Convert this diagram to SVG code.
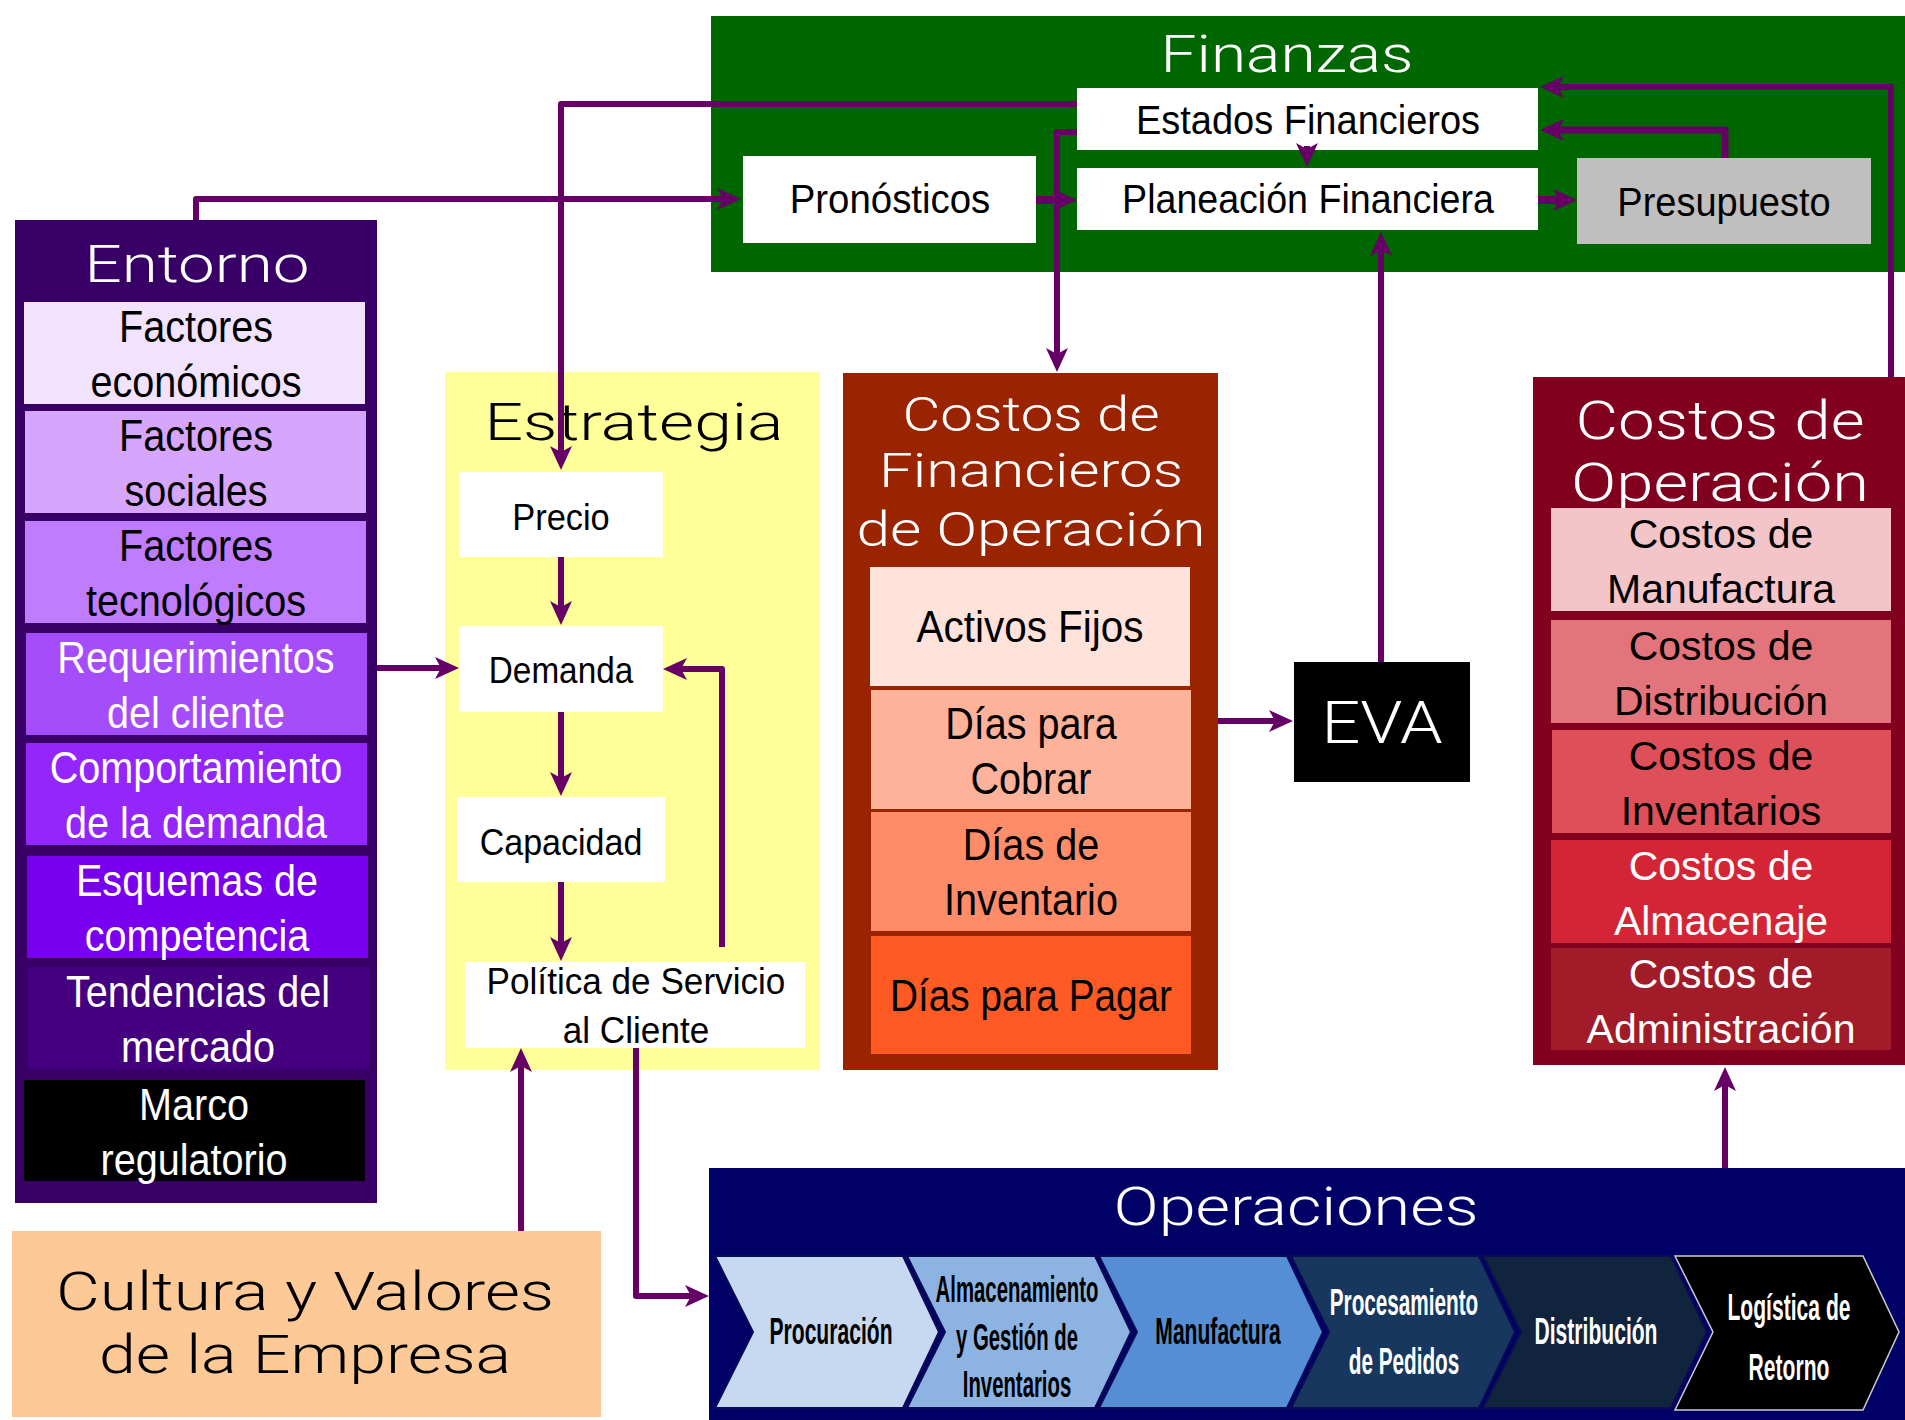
<svg xmlns="http://www.w3.org/2000/svg" width="1905" height="1420" viewBox="0 0 1905 1420">
<style>
.cn{font-family:"Liberation Sans",Arial,sans-serif;text-anchor:middle}
.ti{font-family:Roboto,"Liberation Sans",Arial,sans-serif;font-weight:300;text-anchor:middle}
.w{fill:#ffffff}
.k{fill:#000000}
.e44{font-size:44px}
.f40{font-size:40px}
.s37{font-size:37px}
.ch{font-size:37px;font-weight:bold}
.op{font-family:"Liberation Sans",Arial,sans-serif;text-anchor:middle;font-size:41px}
.conn path{fill:none;stroke:#660066;stroke-width:6;stroke-linejoin:round;marker-end:url(#ah)}
.chev{stroke:#0b0b55;stroke-width:2}
</style>
<defs>
<marker id="ah" markerUnits="userSpaceOnUse" markerWidth="24" markerHeight="22" viewBox="0 0 24 22" refX="14" refY="11" orient="auto">
<path d="M0,0 L24,11 L0,22 L6,11 z" fill="#660066"/>
</marker>
</defs>
<rect width="1905" height="1420" fill="#ffffff"/>

<!-- Finanzas -->
<g id="finanzas">
<rect x="711" y="16" width="1194" height="256" fill="#006600"/>
<text class="ti w" x="1287" y="72" font-size="52" textLength="253" lengthAdjust="spacingAndGlyphs">Finanzas</text>
</g>
<g id="estados-financieros">
<rect x="1077" y="88" width="461" height="62" fill="#ffffff"/>
<text class="cn k f40" transform="translate(1308,134) scale(0.95,1)">Estados Financieros</text>
</g>
<g id="pronosticos">
<rect x="743" y="156" width="293" height="87" fill="#ffffff"/>
<text class="cn k f40" transform="translate(890,213) scale(0.96,1)">Pronósticos</text>
</g>
<g id="planeacion-financiera">
<rect x="1077" y="168" width="461" height="62" fill="#ffffff"/>
<text class="cn k f40" transform="translate(1308,213) scale(0.94,1)">Planeación Financiera</text>
</g>
<g id="presupuesto">
<rect x="1577" y="158" width="294" height="86" fill="#bfbfbf"/>
<text class="cn k f40" transform="translate(1724,216) scale(0.95,1)">Presupuesto</text>
</g>

<!-- Entorno -->
<g id="entorno">
<rect x="15" y="220" width="362" height="983" fill="#380066"/>
<text class="ti w" x="197" y="282" font-size="52" textLength="225" lengthAdjust="spacingAndGlyphs">Entorno</text>
<rect x="24" y="302" width="341" height="102" fill="#f1e2fd"/>
<text class="cn k e44" transform="translate(196,342) scale(0.9,1)">Factores</text>
<text class="cn k e44" transform="translate(196,397) scale(0.9,1)">económicos</text>
<rect x="25" y="411" width="341" height="102" fill="#d5a6fc"/>
<text class="cn k e44" transform="translate(196,451) scale(0.9,1)">Factores</text>
<text class="cn k e44" transform="translate(196,506) scale(0.9,1)">sociales</text>
<rect x="25" y="521" width="341" height="102" fill="#bf7cfc"/>
<text class="cn k e44" transform="translate(196,561) scale(0.9,1)">Factores</text>
<text class="cn k e44" transform="translate(196,616) scale(0.9,1)">tecnológicos</text>
<rect x="26" y="633" width="341" height="102" fill="#a64dfb"/>
<text class="cn w e44" transform="translate(196,673) scale(0.9,1)">Requerimientos</text>
<text class="cn w e44" transform="translate(196,728) scale(0.9,1)">del cliente</text>
<rect x="26" y="743" width="341" height="102" fill="#9326fb"/>
<text class="cn w e44" transform="translate(196,783) scale(0.9,1)">Comportamiento</text>
<text class="cn w e44" transform="translate(196,838) scale(0.9,1)">de la demanda</text>
<rect x="27" y="856" width="341" height="102" fill="#7900ee"/>
<text class="cn w e44" transform="translate(197,896) scale(0.9,1)">Esquemas de</text>
<text class="cn w e44" transform="translate(197,951) scale(0.9,1)">competencia</text>
<rect x="28" y="967" width="341" height="102" fill="#45007f"/>
<text class="cn w e44" transform="translate(198,1007) scale(0.9,1)">Tendencias del</text>
<text class="cn w e44" transform="translate(198,1062) scale(0.9,1)">mercado</text>
<rect x="24" y="1080" width="341" height="101" fill="#000000"/>
<text class="cn w e44" transform="translate(194,1120) scale(0.9,1)">Marco</text>
<text class="cn w e44" transform="translate(194,1175) scale(0.9,1)">regulatorio</text>
</g>

<!-- Estrategia -->
<g id="estrategia">
<rect x="445" y="372" width="375" height="698" fill="#ffff99"/>
<text class="ti k" x="634" y="440" font-size="52" textLength="299" lengthAdjust="spacingAndGlyphs">Estrategia</text>
</g>
<g id="precio">
<rect x="459" y="472" width="204" height="85" fill="#ffffff"/>
<text class="cn k s37" transform="translate(561,530) scale(0.93,1)">Precio</text>
</g>
<g id="demanda">
<rect x="459" y="626" width="204" height="86" fill="#ffffff"/>
<text class="cn k s37" transform="translate(561,683) scale(0.9,1)">Demanda</text>
</g>
<g id="capacidad">
<rect x="457" y="797" width="208" height="85" fill="#ffffff"/>
<text class="cn k s37" transform="translate(561,855) scale(0.92,1)">Capacidad</text>
</g>
<g id="politica">
<rect x="465" y="962" width="340" height="86" fill="#ffffff"/>
<text class="cn k s37" transform="translate(636,994) scale(0.95,1)">Política de Servicio</text>
<text class="cn k s37" transform="translate(636,1043) scale(0.95,1)">al Cliente</text>
</g>

<!-- Costos de Financieros de Operación -->
<g id="costos-financieros">
<rect x="843" y="373" width="375" height="697" fill="#9a2400"/>
<text class="ti w" x="1031" y="431" font-size="48" textLength="257" lengthAdjust="spacingAndGlyphs">Costos de</text>
<text class="ti w" x="1031" y="487" font-size="48" textLength="304" lengthAdjust="spacingAndGlyphs">Financieros</text>
<text class="ti w" x="1031" y="546" font-size="48" textLength="349" lengthAdjust="spacingAndGlyphs">de Operación</text>
<rect x="870" y="567" width="320" height="119" fill="#ffe2d9"/>
<text class="cn k e44" transform="translate(1030,642) scale(0.92,1)">Activos Fijos</text>
<rect x="871" y="690" width="320" height="119" fill="#ffb29a"/>
<text class="cn k e44" transform="translate(1031,739) scale(0.9,1)">Días para</text>
<text class="cn k e44" transform="translate(1031,794) scale(0.9,1)">Cobrar</text>
<rect x="871" y="812" width="320" height="119" fill="#ff8c69"/>
<text class="cn k e44" transform="translate(1031,860) scale(0.9,1)">Días de</text>
<text class="cn k e44" transform="translate(1031,915) scale(0.9,1)">Inventario</text>
<rect x="871" y="936" width="320" height="118" fill="#ff5a24"/>
<text class="cn k e44" transform="translate(1031,1011) scale(0.88,1)">Días para Pagar</text>
</g>

<!-- EVA -->
<g id="eva">
<rect x="1294" y="662" width="176" height="120" fill="#000000"/>
<text class="ti w" x="1382" y="743" font-size="60" textLength="121" lengthAdjust="spacingAndGlyphs">EVA</text>
</g>

<!-- Costos de Operación -->
<g id="costos-operacion">
<rect x="1533" y="377" width="372" height="688" fill="#80001e"/>
<text class="ti w" x="1720" y="439" font-size="53" textLength="289" lengthAdjust="spacingAndGlyphs">Costos de</text>
<text class="ti w" x="1720" y="501" font-size="53" textLength="298" lengthAdjust="spacingAndGlyphs">Operación</text>
<rect x="1551" y="508" width="340" height="103" fill="#f3c4c8"/>
<text class="op k" x="1721" y="548">Costos de</text>
<text class="op k" x="1721" y="603">Manufactura</text>
<rect x="1551" y="620" width="340" height="103" fill="#e4747b"/>
<text class="op k" x="1721" y="660">Costos de</text>
<text class="op k" x="1721" y="715">Distribución</text>
<rect x="1552" y="730" width="339" height="103" fill="#de4f59"/>
<text class="op k" x="1721" y="770">Costos de</text>
<text class="op k" x="1721" y="825">Inventarios</text>
<rect x="1551" y="840" width="340" height="103" fill="#d32535"/>
<text class="op w" x="1721" y="880">Costos de</text>
<text class="op w" x="1721" y="935">Almacenaje</text>
<rect x="1551" y="948" width="340" height="102" fill="#a11c28"/>
<text class="op w" x="1721" y="988">Costos de</text>
<text class="op w" x="1721" y="1043">Administración</text>
</g>

<!-- Cultura -->
<g id="cultura">
<rect x="12" y="1231" width="589" height="186" fill="#fdc996"/>
<text class="ti k" x="305" y="1310" font-size="54" textLength="498" lengthAdjust="spacingAndGlyphs">Cultura y Valores</text>
<text class="ti k" x="305" y="1373" font-size="54" textLength="412" lengthAdjust="spacingAndGlyphs">de la Empresa</text>
</g>

<!-- Operaciones -->
<g id="operaciones">
<rect x="709" y="1168" width="1196" height="252" fill="#000066"/>
<text class="ti w" x="1296" y="1225" font-size="53" textLength="365" lengthAdjust="spacingAndGlyphs">Operaciones</text>
</g>
<g id="procuracion">
<polygon class="chev" points="715,1256 903,1256 939,1332 903,1408 715,1408 753,1332" fill="#c6d9f1"/>
<text class="cn k ch" transform="translate(831,1344) scale(0.57,1)">Procuración</text>
</g>
<g id="almacenamiento">
<polygon class="chev" points="907,1256 1095,1256 1131,1332 1095,1408 907,1408 945,1332" fill="#8db3e2"/>
<text class="cn k ch" transform="translate(1017,1302) scale(0.55,1)">Almacenamiento</text>
<text class="cn k ch" transform="translate(1017,1350) scale(0.55,1)">y Gestión de</text>
<text class="cn k ch" transform="translate(1017,1397) scale(0.55,1)">Inventarios</text>
</g>
<g id="manufactura">
<polygon class="chev" points="1099,1256 1287,1256 1323,1332 1287,1408 1099,1408 1137,1332" fill="#558ed5"/>
<text class="cn k ch" transform="translate(1218,1344) scale(0.57,1)">Manufactura</text>
</g>
<g id="procesamiento">
<polygon class="chev" points="1291,1256 1479,1256 1515,1332 1479,1408 1291,1408 1329,1332" fill="#17375e"/>
<text class="cn w ch" transform="translate(1404,1315) scale(0.56,1)">Procesamiento</text>
<text class="cn w ch" transform="translate(1404,1374) scale(0.56,1)">de Pedidos</text>
</g>
<g id="distribucion">
<polygon class="chev" points="1483,1256 1671,1256 1707,1332 1671,1408 1483,1408 1521,1332" fill="#10243e"/>
<text class="cn w ch" transform="translate(1596,1344) scale(0.57,1)">Distribución</text>
</g>
<g id="logistica">
<polygon points="1675,1256 1863,1256 1899,1332 1863,1410 1675,1410 1713,1332" fill="#000000" stroke="#cccccc" stroke-width="1.5"/>
<text class="cn w ch" transform="translate(1789,1320) scale(0.57,1)">Logística de</text>
<text class="cn w ch" transform="translate(1789,1380) scale(0.57,1)">Retorno</text>
</g>

<!-- Connectors -->
<g id="connectors" class="conn">
<path d="M196,220 V199 H731"/>
<path d="M1077,104 H561 V460"/>
<path d="M1077,132 H1057 V362"/>
<path d="M1307,146 V157"/>
<path d="M1036,200 H1067" style="stroke-width:8"/>
<path d="M1538,200 H1567" style="stroke-width:8"/>
<path d="M1725,158 V130 H1550" style="stroke-width:7"/>
<path d="M1891,377 V87 H1550"/>
<path d="M1381,662 V242"/>
<path d="M1218,721 H1283"/>
<path d="M377,668 H449"/>
<path d="M561,557 V615"/>
<path d="M561,712 V786"/>
<path d="M561,882 V951"/>
<path d="M722,947 V669 H673"/>
<path d="M521,1231 V1058"/>
<path d="M636,1048 V1296 H699"/>
<path d="M1725,1168 V1077"/>
</g>
</svg>
